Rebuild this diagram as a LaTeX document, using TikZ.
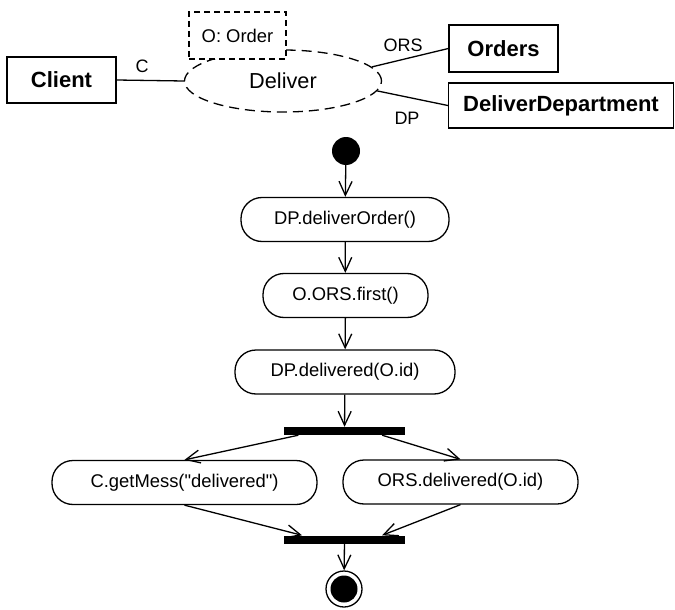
\documentclass[tikz,border=0pt]{standalone}
\usepackage{fontspec}
\setmainfont{Liberation Sans}
\newfontfamily\plainsans{Liberation Sans}
\usetikzlibrary{arrows.meta,shapes.geometric,calc}
\begin{document}
\begin{tikzpicture}[x=1pt,y=-1pt,
  lw/.style={line width=1.3pt},
  txt/.style={font=\fontsize{18.4}{22}\selectfont},
  lbl/.style={font=\fontsize{18}{22}\selectfont},
  cls/.style={draw,lw,rectangle,inner sep=0pt,font=\fontsize{22}{26}\selectfont\bfseries},
  act/.style={draw,lw,rectangle,rounded corners=21pt,inner sep=0pt,minimum height=44pt,txt},
  syncbar/.style={fill=black,inner sep=0pt,minimum width=121pt,minimum height=8pt},
  arr/.style={lw,-{Straight Barb[length=14pt,width=13pt]}},
  ]
\useasboundingbox (0,0) rectangle (675,610);
% top part
\node[cls,minimum width=109pt,minimum height=46pt] (client) at (61.5,80) {Client};
\node[cls,minimum width=109pt,minimum height=47pt] (orders) at (503.5,48.5) {Orders};
\node[cls,minimum width=225pt,minimum height=45pt] (dd) at (561,105.5) {DeliverDepartment};
\node[ellipse,draw,lw,dash pattern=on 10pt off 6pt,minimum width=197pt,minimum height=62pt,inner sep=0pt,font=\fontsize{21.7}{26}\selectfont] (deliver) at (283,81) {Deliver};
\node[draw,lw,dash pattern=on 6pt off 4pt,fill=white,minimum width=97pt,minimum height=47pt,inner sep=0pt,txt] (ord) at (237.5,35.5) {O: Order};
\draw[lw] (client.east) -- (deliver.west);
\draw[lw] (deliver.9) -- (orders.west);
\draw[lw] (deliver.-6) -- (dd.west);
\node[lbl] (lc) at (142,66) {C};
\node[lbl] (lors) at (403,45) {ORS};
\node[lbl] (ldp) at (407,118) {DP};
% activity part
\node[circle,fill=black,minimum size=28pt,inner sep=0pt] (start) at (346,151) {};
\node[act,minimum width=208pt] (a1) at (345,219.5) {DP.deliverOrder()};
\node[act,minimum width=165pt] (a2) at (345.5,295.5) {O.ORS.first()};
\node[act,minimum width=220pt] (a3) at (345,372) {DP.delivered(O.id)};
\node[syncbar] (b1) at (344.5,431) {};
\node[act,minimum width=265pt,font=\fontsize{18.4}{22}\selectfont\plainsans] (a4) at (184.5,482.5) {C.getMess("delivered")};
\node[act,minimum width=235pt] (a5) at (460.5,482) {ORS.delivered(O.id)};
\node[syncbar] (b2) at (344.5,539.5) {};
\node[circle,draw,lw,minimum size=36pt,inner sep=0pt] (final) at (344,589) {};
\node[circle,fill=black,minimum size=27pt,inner sep=0pt] (finalin) at (344,589) {};
\coordinate (b1l) at ($(b1.south west)!0.12!(b1.south east)$);
\coordinate (b1r) at ($(b1.south west)!0.81!(b1.south east)$);
\coordinate (b2l) at ($(b2.north west)!0.15!(b2.north east)$);
\coordinate (b2r) at ($(b2.north west)!0.81!(b2.north east)$);
\draw[arr] (start) -- (a1);
\draw[arr] (a1) -- (a2);
\draw[arr] (a2) -- (a3);
\draw[arr] (a3) -- (b1);
\draw[arr] (b1l) -- (a4.north);
\draw[arr] (b1r) -- (a5.north);
\draw[arr] (a4.south) -- (b2l);
\draw[arr] (a5.south) -- (b2r);
\draw[arr] (b2) -- (final);
\end{tikzpicture}
\end{document}
